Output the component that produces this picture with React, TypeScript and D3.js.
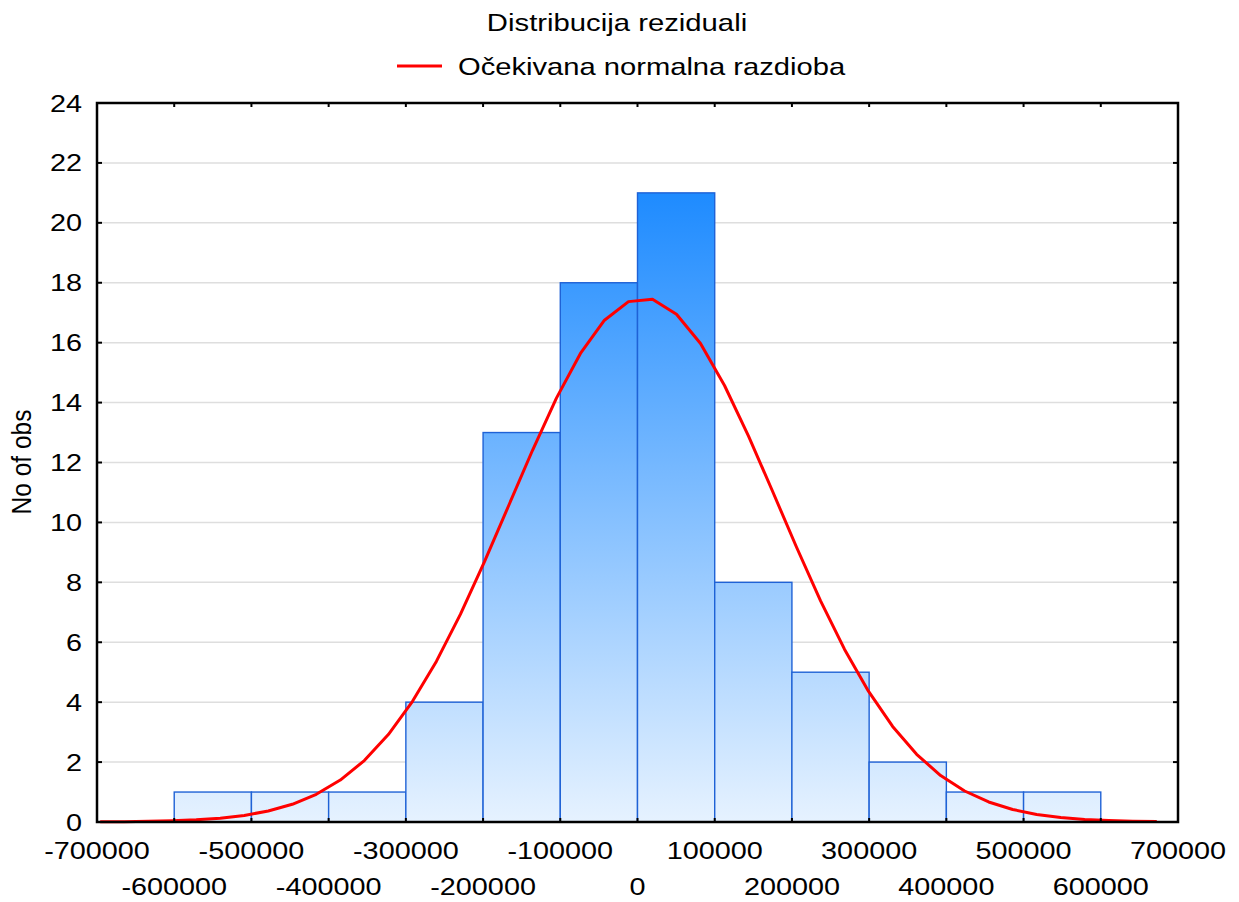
import * as d3 from "d3";

const title = "Distribucija reziduali";
const legendLabel = "Očekivana normalna razdioba";
const yLabel = "No of obs";

const binStarts = [-600000, -500000, -400000, -300000, -200000, -100000, 0, 100000, 200000, 300000, 400000, 500000];
const binEnds = [-500000, -400000, -300000, -200000, -100000, 0, 100000, 200000, 300000, 400000, 500000, 600000];
const binCounts = [1, 1, 1, 4, 13, 18, 21, 8, 5, 2, 1, 1];

const curveX = [
  -695900, -664800, -633700, -602600, -571500, -540400, -509300, -478200, -447100, -416000,
  -384900, -353800, -322700, -291600, -260500, -229400, -198300, -167200, -136100, -105000,
  -73900, -42800, -11700, 19400, 50500, 81600, 112700, 143800, 174900, 206000,
  237100, 268200, 299300, 330400, 361500, 392600, 423700, 454800, 485900, 517000,
  548100, 579200, 610300, 641400, 672500,
];
const curveY = [
  0.005, 0.011, 0.021, 0.04, 0.072, 0.128, 0.22, 0.367, 0.591, 0.924,
  1.4, 2.05, 2.92, 4.02, 5.36, 6.93, 8.68, 10.54, 12.4, 14.15,
  15.64, 16.75, 17.37, 17.45, 16.95, 15.97, 14.57, 12.88, 11.04, 9.17,
  7.38, 5.76, 4.36, 3.19, 2.26, 1.55, 1.035, 0.669, 0.418, 0.253,
  0.149, 0.085, 0.047, 0.025, 0.013,
];

const yTicks = [0, 2, 4, 6, 8, 10, 12, 14, 16, 18, 20, 22, 24];
const xLabelsUpper = [-700000, -500000, -300000, -100000, 100000, 300000, 500000, 700000];
const xLabelsLower = [-600000, -400000, -200000, 0, 200000, 400000, 600000];
const xEdgeTicks = [-600000, -500000, -400000, -300000, -200000, -100000, 0, 100000, 200000, 300000, 400000, 500000, 600000];

const W = 1239;
const H = 902;
const left = 97, right = 1178, top = 103, bottom = 822;
const font = "'Liberation Sans', Arial, sans-serif";
const sx = 1.2; // glyphs in the reference are stretched horizontally

export default function App() {
  const x = d3.scaleLinear().domain([-700000, 700000]).range([left, right]);
  const y = d3.scaleLinear().domain([0, 24]).range([bottom, top]);

  const line = d3
    .line<number>()
    .x((_, i) => x(curveX[i]))
    .y((d) => y(d));

  const label = (tx: number, ty: number, text: string | number, anchor: string, size = 24, scale = sx) => (
    <text
      transform={`translate(${tx},${ty}) scale(${scale},1)`}
      textAnchor={anchor}
      fontSize={size}
      fontFamily={font}
      fill="#000"
    >
      {text}
    </text>
  );

  return (
    <svg
      width={W}
      height={H}
      style={{ position: "absolute", left: 0, top: 0, background: "#fff" }}
    >
      <defs>
        <linearGradient id="barGrad" gradientUnits="userSpaceOnUse" x1={0} x2={0} y1={y(21)} y2={y(0)}>
          <stop offset="0" stopColor="#1E8BFF" />
          <stop offset="1" stopColor="#E6F2FF" />
        </linearGradient>
      </defs>

      {/* title + legend */}
      {label(617, 31, title, "middle", 24, 1.22)}
      <line x1={397} x2={442} y1={66} y2={66} stroke="#ff0000" strokeWidth={3} />
      {label(458, 75, legendLabel, "start", 24, 1.215)}

      {/* grid */}
      {yTicks.slice(1, -1).map((t) => (
        <line key={`g${t}`} x1={left} x2={right} y1={y(t)} y2={y(t)} stroke="#dedede" strokeWidth={1.5} />
      ))}

      {/* bars */}
      {binCounts.map((c, i) => (
        <rect
          key={`b${i}`}
          x={x(binStarts[i])}
          y={y(c)}
          width={x(binEnds[i]) - x(binStarts[i])}
          height={y(0) - y(c)}
          fill="url(#barGrad)"
          stroke="#1f62d6"
          strokeWidth={1.4}
        />
      ))}

      {/* expected normal */}
      <path d={line(curveY) ?? ""} fill="none" stroke="#ff0000" strokeWidth={3} strokeLinejoin="round" />

      {/* frame */}
      <rect x={left} y={top} width={right - left} height={bottom - top} fill="none" stroke="#000" strokeWidth={2.5} />
      {yTicks.slice(1, -1).map((t) => (
        <g key={`yt${t}`}>
          <line x1={left} x2={left + 5} y1={y(t)} y2={y(t)} stroke="#000" strokeWidth={2} />
          <line x1={right - 5} x2={right} y1={y(t)} y2={y(t)} stroke="#000" strokeWidth={2} />
        </g>
      ))}
      {xEdgeTicks.map((t) => (
        <g key={`xt${t}`}>
          <line x1={x(t)} x2={x(t)} y1={bottom} y2={bottom - 4} stroke="#000" strokeWidth={2} />
          <line x1={x(t)} x2={x(t)} y1={top} y2={top + 4} stroke="#000" strokeWidth={2} />
        </g>
      ))}

      {/* y tick labels */}
      {yTicks.map((t) => (
        <g key={`yl${t}`}>{label(82, y(t) + 8.5, t, "end")}</g>
      ))}

      {/* x tick labels, two staggered rows */}
      {xLabelsUpper.map((t) => (
        <g key={`xu${t}`}>{label(x(t), 859, t, "middle")}</g>
      ))}
      {xLabelsLower.map((t) => (
        <g key={`xl${t}`}>{label(x(t), 895, t, "middle")}</g>
      ))}

      {/* y axis title */}
      <text
        transform="translate(31,462) rotate(-90) scale(1,1.12)"
        textAnchor="middle"
        fontSize={24.5}
        fontFamily={font}
        fill="#000"
      >
        {yLabel}
      </text>
    </svg>
  );
}
